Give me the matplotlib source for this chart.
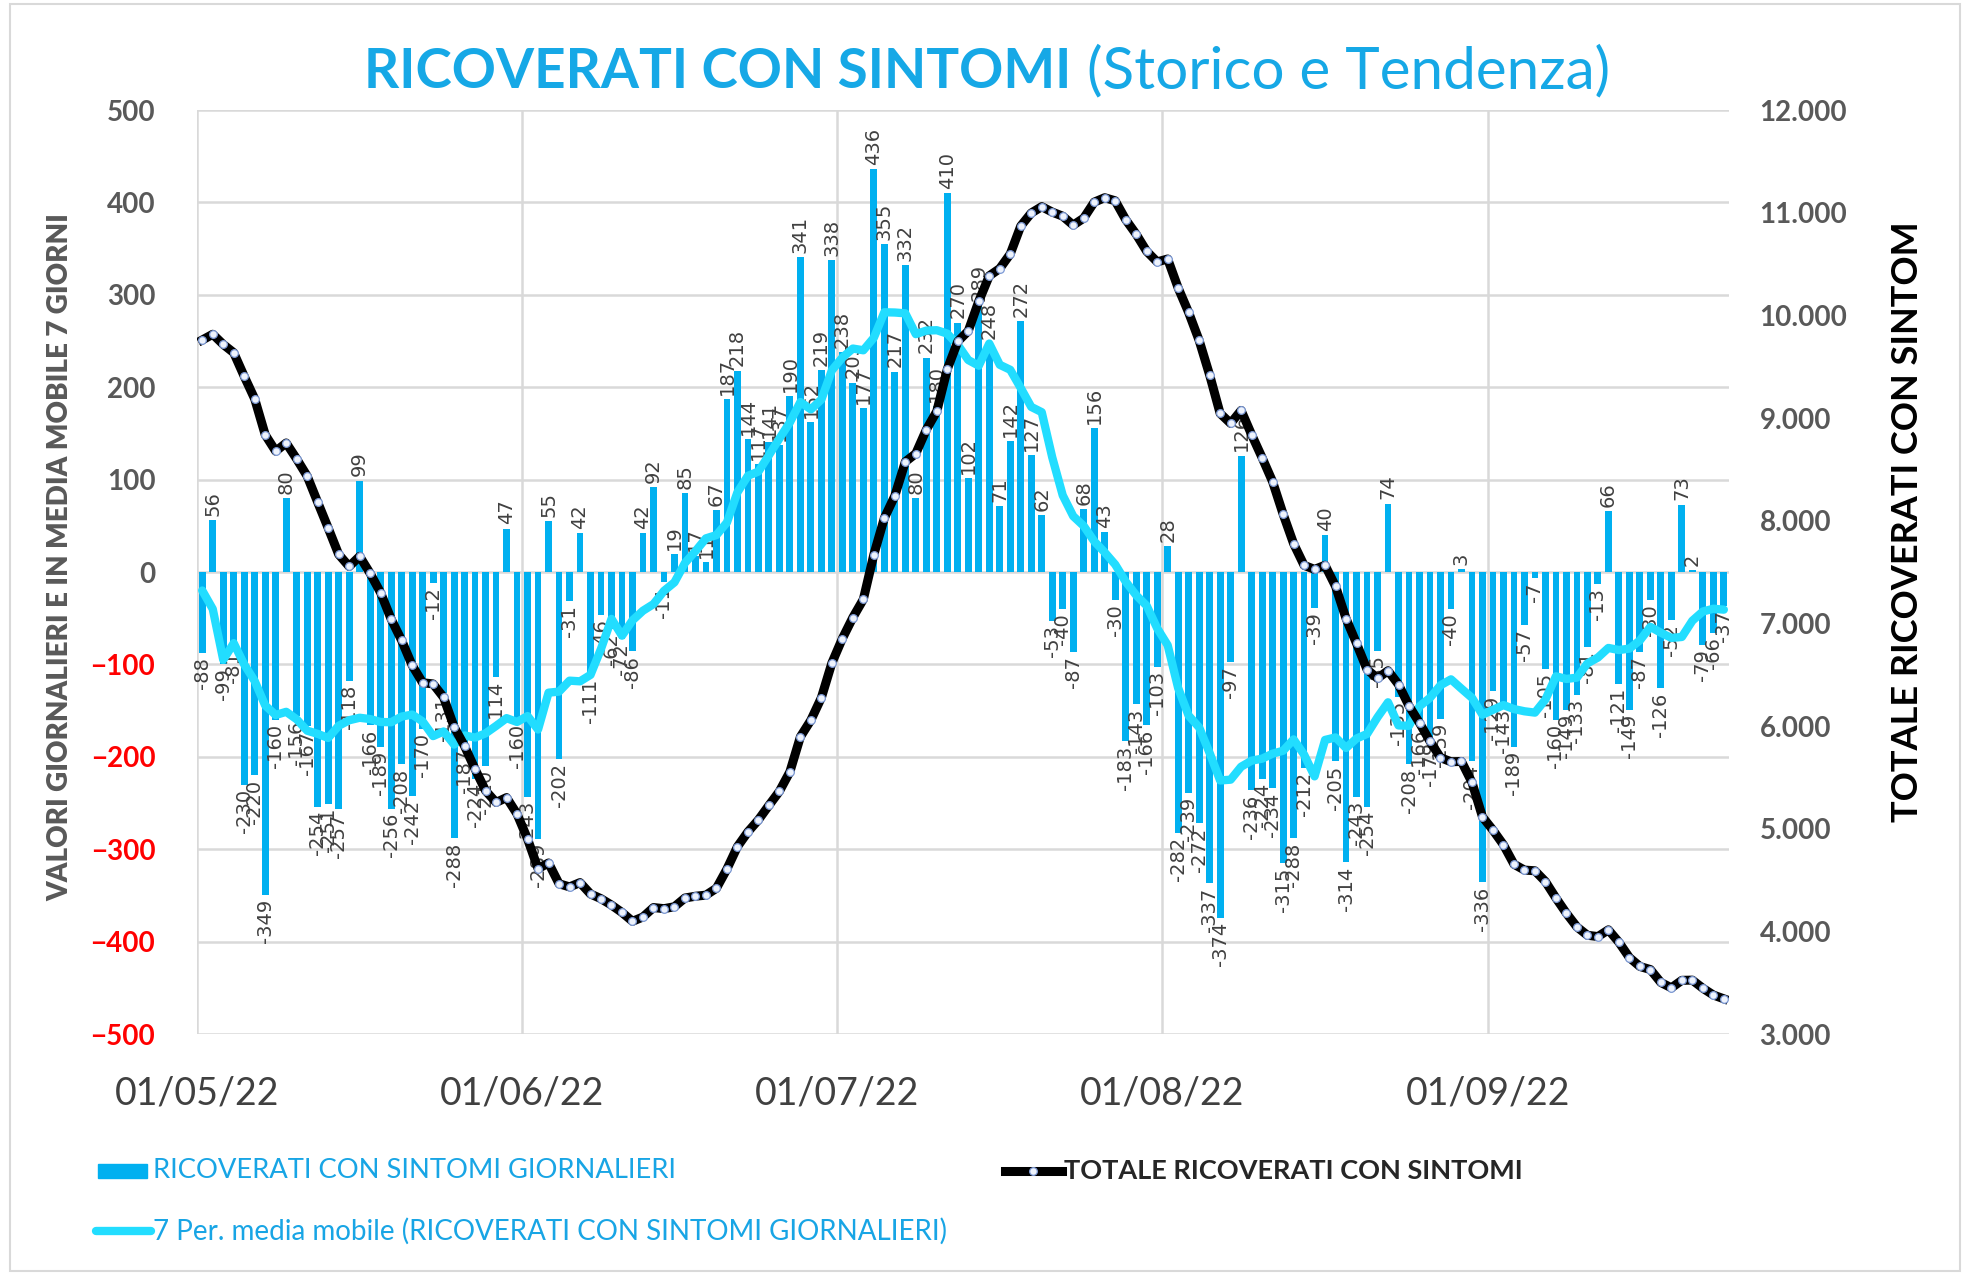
import numpy as np
import pandas as pd
import matplotlib
matplotlib.use('Agg')
import matplotlib.pyplot as plt
import matplotlib.dates as mdates
from matplotlib.lines import Line2D
from matplotlib.patches import Rectangle
from matplotlib.ticker import FuncFormatter

plt.rcParams['font.family'] = ['Lato', 'DejaVu Sans']

# Dati: ricoverati con sintomi, dal 01/05/22 al 23/09/22
giorni = pd.date_range('2022-05-01', periods=146, freq='D')

giornalieri = [
    -88, 56, -99, -81, -230, -220, -349, -160, 80, -156,
    -167, -254, -251, -257, -118, 99, -166, -189, -256, -208,
    -242, -170, -12, -131, -288, -187, -224, -210, -114, 47,
    -160, -243, -289, 55, -202, -31, 42, -111, -46, -62,
    -72, -86, 42, 92, -11, 19, 85, 17, 11, 67,
    187, 218, 144, 117, 141, 137, 190, 341, 162, 219,
    338, 238, 205, 177, 436, 355, 217, 332, 80, 232,
    180, 410, 270, 102, 289, 248, 71, 142, 272, 127,
    62, -53, -40, -87, 68, 156, 43, -30, -183, -143,
    -166, -103, 28, -282, -239, -272, -337, -374, -97, 126,
    -236, -224, -234, -315, -288, -212, -39, 40, -205, -314,
    -243, -254, -85, 74, -135, -208, -166, -179, -159, -40,
    3, -204, -336, -129, -143, -189, -57, -7, -105, -160,
    -149, -133, -81, -13, 66, -121, -149, -87, -30, -126,
    -52, 73, 2, -79, -66, -37,
]

totale = [
    9760, 9816, 9717, 9636, 9406, 9186, 8837, 8677, 8757, 8601,
    8434, 8180, 7929, 7672, 7554, 7653, 7487, 7298, 7042, 6834,
    6592, 6422, 6410, 6279, 5991, 5804, 5580, 5370, 5256, 5303,
    5143, 4900, 4611, 4666, 4464, 4433, 4475, 4364, 4318, 4256,
    4184, 4098, 4140, 4232, 4221, 4240, 4325, 4342, 4353, 4420,
    4607, 4825, 4969, 5086, 5227, 5364, 5554, 5895, 6057, 6276,
    6614, 6852, 7057, 7234, 7670, 8025, 8242, 8574, 8654, 8886,
    9066, 9476, 9746, 9848, 10137, 10385, 10456, 10598, 10870, 10997,
    11059, 11006, 10966, 10879, 10947, 11103, 11146, 11116, 10933, 10790,
    10624, 10521, 10549, 10267, 10028, 9756, 9419, 9045, 8948, 9074,
    8838, 8614, 8380, 8065, 7777, 7565, 7526, 7566, 7361, 7047,
    6804, 6550, 6465, 6539, 6404, 6196, 6030, 5851, 5692, 5652,
    5655, 5451, 5115, 4986, 4843, 4654, 4597, 4590, 4485, 4325,
    4176, 4043, 3962, 3949, 4015, 3894, 3745, 3658, 3628, 3502,
    3450, 3523, 3525, 3446, 3380, 3343,
]

# media mobile dei primi 6 giorni (usa dati di aprile non visibili nel grafico)
media_inizio = [-20, -40, -95, -77, -100, -118]

media = pd.Series(giornalieri, dtype=float).rolling(7).mean().to_numpy()
media[:6] = media_inizio

blu = '#00B0F0'
ciano = '#22DDFF'
titolo_col = '#16A8E6'
grigio = '#595959'

x = giorni + pd.Timedelta(hours=12)

fig = plt.figure(figsize=(19.7, 12.75), dpi=100)
fig.patches.append(Rectangle((0.005, 0.003), 0.99, 0.994, transform=fig.transFigure,
                             fill=False, edgecolor='#D9D9D9', lw=1.5))

ax = fig.add_axes([0.1, 0.189, 0.7777, 0.7247])
ax.bar(x, giornalieri, width=0.65, color=blu, zorder=2)
for xi, v in zip(x, giornalieri):
    ax.annotate(str(v), (xi, v), xytext=(0, 3 if v >= 0 else -3), textcoords='offset points',
                rotation=90, ha='center', va='bottom' if v >= 0 else 'top',
                fontsize=14, color='#404040', family=['Liberation Sans Narrow', 'DejaVu Sans'],
                zorder=3)
ax.plot(x, media, color=ciano, lw=6, zorder=4, solid_capstyle='round')

ax.set_xlim(giorni[0], giorni[-1] + pd.Timedelta(days=1))
ax.set_ylim(-500, 500)
ax.set_yticks(range(-500, 501, 100))
ax.xaxis.set_major_locator(mdates.MonthLocator())
ax.xaxis.set_major_formatter(mdates.DateFormatter('%d/%m/%y'))
ax.grid(True, color='#D9D9D9', lw=1.8, zorder=0)
ax.set_axisbelow(True)
for s in ax.spines.values():
    s.set_visible(False)
ax.tick_params(axis='x', length=0, pad=30, labelsize=27, labelcolor='#404040')
ax.tick_params(axis='y', length=0, pad=30, labelsize=20, labelcolor=grigio)
for lbl, v in zip(ax.get_yticklabels(), ax.get_yticks()):
    lbl.set_fontweight('bold')
    if v < 0:
        lbl.set_color('#FF0000')
ax.set_ylabel('VALORI GIORNALIERI E IN MEDIA MOBILE 7 GIORNI', fontsize=20,
              fontweight='heavy', color=grigio)
ax.yaxis.set_label_coords(-0.081, 0.516)

ax2 = ax.twinx()
ax2.plot(x, totale, color='black', lw=6.5, marker='o', ms=5.5, mfc='#eef3fc',
         mec='#7d9ad6', mew=0.9, zorder=5)
ax2.set_ylim(3000, 12000)
ax2.set_yticks(range(3000, 12001, 1000))
ax2.yaxis.set_major_formatter(FuncFormatter(lambda v, p: f'{v:,.0f}'.replace(',', '.')))
for s in ax2.spines.values():
    s.set_visible(False)
ax2.tick_params(axis='y', length=0, pad=22, labelsize=20, labelcolor=grigio)
for lbl in ax2.get_yticklabels():
    lbl.set_fontweight('bold')
ax2.set_ylabel('TOTALE RICOVERATI CON SINTOM', fontsize=26, fontweight='bold',
               color='black', rotation=90)
ax2.yaxis.set_label_coords(1.1055, 0.554)

# titolo in due parti
r = fig.canvas.get_renderer()
t1 = fig.text(0, 0.931, 'RICOVERATI CON SINTOMI', fontsize=39.5, fontweight='bold',
              color=titolo_col, va='baseline')
t2 = fig.text(0, 0.931, ' (Storico e Tendenza)', fontsize=42, color=titolo_col, va='baseline')
w1 = t1.get_window_extent(r).width
w2 = t2.get_window_extent(r).width
W = fig.get_figwidth() * fig.dpi
start = 987 - (w1 + w2) / 2
t1.set_x(start / W)
t2.set_x((start + w1) / W)

# legenda
H = fig.get_figheight() * fig.dpi
def fy(py):
    return 1 - py / H

fig.patches.append(Rectangle((98 / W, fy(1178)), 49 / W, 14 / H, transform=fig.transFigure,
                             color=blu))
fig.text(153 / W, fy(1171), 'RICOVERATI CON SINTOMI GIORNALIERI', fontsize=19.7,
         color='#18A5E5', va='center')
fig.add_artist(Line2D([1005 / W, 1062 / W], [fy(1171), fy(1171)], transform=fig.transFigure,
                      color='black', lw=6.5))
fig.add_artist(Line2D([1033 / W], [fy(1171)], transform=fig.transFigure, marker='o', ms=5.5,
                      mfc='#eef3fc', mec='#7d9ad6', mew=0.9))
fig.text(1064 / W, fy(1171), 'TOTALE RICOVERATI CON SINTOMI', fontsize=19.5,
         fontweight='bold', color='#262626', va='center')
fig.add_artist(Line2D([96 / W, 151 / W], [fy(1231), fy(1231)], transform=fig.transFigure,
                      color=ciano, lw=6, solid_capstyle='round'))
fig.text(153 / W, fy(1231), '7 Per. media mobile (RICOVERATI CON SINTOMI GIORNALIERI)',
         fontsize=20, color='#18A5E5', va='center')

fig.savefig('out.png', dpi=100)
